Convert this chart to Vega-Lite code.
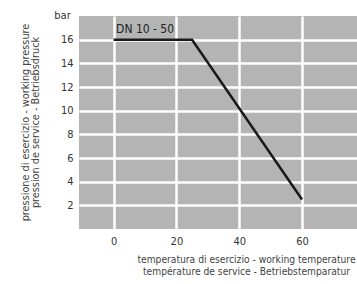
{
  "$schema": "https://vega.github.io/schema/vega-lite/v6.json",
  "width": 278,
  "height": 213,
  "autosize": {"type": "none"},
  "padding": {"left": 79, "top": 16, "right": 0, "bottom": 55},
  "background": "white",
  "title": {
    "text": ["pressione di esercizio - working pressure", "pression de service - Betriebsdruck"],
    "orient": "left",
    "anchor": "middle",
    "font": "DejaVu Sans Condensed",
    "fontSize": 10.8,
    "fontWeight": "normal",
    "lineHeight": 10,
    "color": "#444444",
    "offset": 13
  },
  "config": {
    "view": {"fill": "#b4b4b4", "stroke": null},
    "font": "DejaVu Sans Condensed"
  },
  "datasets": {
    "curve": [
      {"temp": 0, "pressure": 16},
      {"temp": 25, "pressure": 16},
      {"temp": 60, "pressure": 2.5}
    ],
    "labels": [
      {"temp": 0.8, "pressure": 16.9, "label": "DN 10 - 50"}
    ]
  },
  "encoding": {
    "x": {
      "field": "temp", "type": "quantitative",
      "scale": {"domain": [-11, 77.5], "nice": false, "zero": false},
      "axis": {
        "values": [0, 20, 40, 60, 80],
        "domain": false, "ticks": false, "labelOverlap": false,
        "grid": true, "gridColor": "#ffffff", "gridWidth": 2.5, "gridOpacity": 1,
        "labelFont": "DejaVu Sans Condensed", "labelFontSize": 11, "labelColor": "#333333",
        "labelPadding": 6,
        "title": ["temperatura di esercizio - working temperature", "température de service - Betriebstemparatur"],
        "titleFont": "DejaVu Sans Condensed", "titleFontSize": 10.2, "titleFontWeight": "normal",
        "titleColor": "#444444", "titleLineHeight": 12.5, "titlePadding": 8, "titleX": 167
      }
    },
    "y": {
      "field": "pressure", "type": "quantitative",
      "scale": {"domain": [0, 18], "nice": false},
      "axis": {
        "values": [2, 4, 6, 8, 10, 12, 14, 16],
        "domain": false, "ticks": false, "labelOverlap": false,
        "grid": true, "gridColor": "#ffffff", "gridWidth": 2.5, "gridOpacity": 1,
        "labelFont": "DejaVu Sans Condensed", "labelFontSize": 11, "labelColor": "#333333",
        "labelPadding": 6,
        "title": "bar", "titleAngle": 0, "titleX": -17, "titleY": -1,
        "titleAlign": "center", "titleBaseline": "middle",
        "titleFont": "DejaVu Sans Condensed", "titleFontSize": 11, "titleFontWeight": "normal",
        "titleColor": "#333333"
      }
    }
  },
  "layer": [
    {
      "data": {"name": "curve"},
      "mark": {"type": "line", "color": "#1a1a1a", "strokeWidth": 2.5}
    },
    {
      "data": {"name": "labels"},
      "mark": {"type": "text", "align": "left", "baseline": "middle", "font": "DejaVu Sans Condensed", "fontSize": 12, "color": "#222222"},
      "encoding": {
        "text": {"field": "label"}
      }
    }
  ]
}
